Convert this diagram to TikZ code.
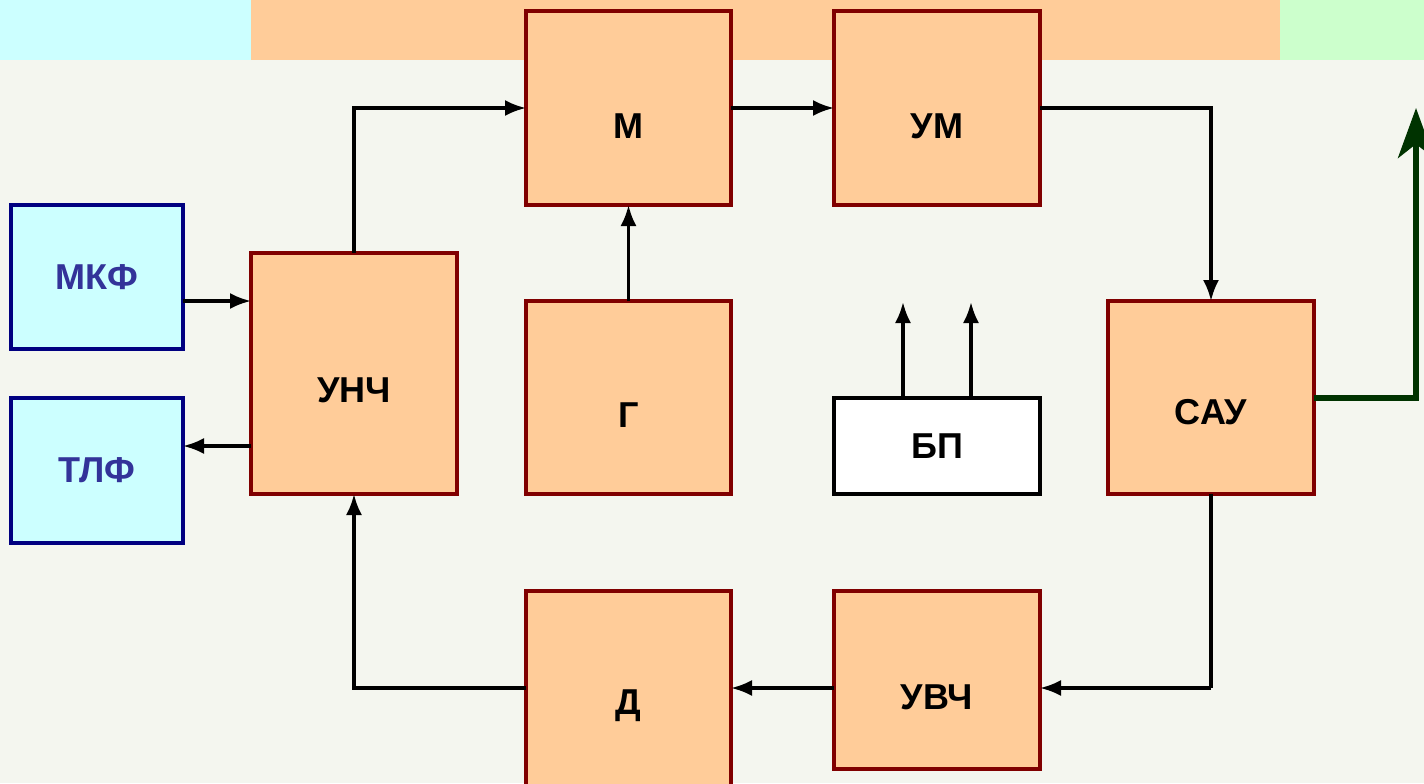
\documentclass[tikz,border=0pt]{standalone}
\usepackage{fontspec}
\setmainfont{Liberation Sans}
\usetikzlibrary{arrows.meta}
\definecolor{bg}{HTML}{F4F6EF}
\definecolor{peach}{HTML}{FFCC99}
\definecolor{dred}{HTML}{800000}
\definecolor{cyanf}{HTML}{CCFFFF}
\definecolor{navy}{HTML}{000080}
\definecolor{tblue}{HTML}{333399}
\definecolor{lgreen}{HTML}{CCFFCC}
\definecolor{dgreen}{HTML}{003300}
\tikzset{
  lbl/.style={font=\bfseries\fontsize{18}{20}\selectfont},
  pbox/.style={draw=dred, fill=peach, line width=1.75pt, inner sep=0pt, outer sep=0pt, lbl},
  cbox/.style={draw=navy, fill=cyanf, line width=1.75pt, inner sep=0pt, outer sep=0pt, text=tblue, lbl},
  wbox/.style={draw=black, fill=white, line width=1.75pt, inner sep=0pt, outer sep=0pt, lbl},
  conn/.style={line width=1.6pt, -{Latex[length=10.5pt,width=8pt]}},
  plain/.style={line width=1.6pt},
  gconn/.style={draw=dgreen, line width=3pt, -{Stealth[length=25pt,width=18pt,inset=7pt]}},
}
\begin{document}
\begin{tikzpicture}[x=0.5pt,y=-0.5pt]
\useasboundingbox (0,0) rectangle (1424,783);
\fill[bg] (0,0) rectangle (1424,783);
\fill[cyanf] (0,0) rectangle (251,60);
\fill[peach] (251,0) rectangle (1280,60);
\fill[lgreen] (1280,0) rectangle (1424,60);

\node[cbox, minimum width=86pt, minimum height=72pt] (mkf) at (97,277) {МКФ};
\node[cbox, minimum width=86pt, minimum height=72.5pt] (tlf) at (97,470.5) {ТЛФ};
\node[pbox, minimum width=103pt, minimum height=120.5pt, label={[yshift=-8.5pt,lbl]center:УНЧ}] (unch) at (354,373.5) {};
\node[pbox, minimum width=102.5pt, minimum height=97pt, label={[yshift=-9pt,lbl]center:М}] (m) at (628.5,108) {};
\node[pbox, minimum width=103pt, minimum height=97pt, label={[yshift=-9pt,lbl]center:УМ}] (um) at (937,108) {};
\node[pbox, minimum width=102.5pt, minimum height=96.5pt, label={[yshift=-9pt,lbl]center:Г}] (g) at (628.5,397.5) {};
\node[wbox, minimum width=103pt, minimum height=48pt] (bp) at (937,446) {БП};
\node[pbox, minimum width=103pt, minimum height=96.5pt, label={[yshift=-7.5pt,lbl]center:САУ}] (sau) at (1211,397.5) {};
\node[pbox, minimum width=102.5pt, minimum height=100pt, label={[yshift=-7.5pt,lbl]center:Д}] (d) at (628.5,691) {};
\node[pbox, minimum width=103pt, minimum height=89pt, label={[yshift=-8.5pt,lbl]center:УВЧ}] (uvch) at (937,680) {};

\coordinate (c1) at (354,108);
\coordinate (c2) at (1211,108);
\coordinate (c3) at (1211,688);
\coordinate (c4) at (354,688);
\coordinate (g1) at (1416,398);
\coordinate (g2) at (1416,108);
\coordinate (b1) at (903,302);
\coordinate (b2) at (971,302);

\draw[conn] (mkf.east |- 0,301) -- (unch.west |- 0,301);
\draw[conn] (unch.west |- 0,446) -- (tlf.east |- 0,446);
\draw[conn] (unch.north) -- (c1) -- (m.west |- c1);
\draw[conn] (m.east |- c1) -- (um.west |- c1);
\draw[conn] (g.north) -- (m.south);
\draw[conn] (um.east |- c2) -- (c2) -- (sau.north);
\draw[plain] (sau.south) -- (c3);
\draw[conn] (c3) -- (uvch.east |- c3);
\draw[conn] (uvch.west |- c3) -- (d.east |- c3);
\draw[conn] (d.west |- c4) -- (c4) -- (unch.south);
\draw[conn] (bp.north -| b1) -- (b1);
\draw[conn] (bp.north -| b2) -- (b2);
\draw[gconn] (sau.east |- g1) -- (g1) -- (g2);
\end{tikzpicture}
\end{document}
